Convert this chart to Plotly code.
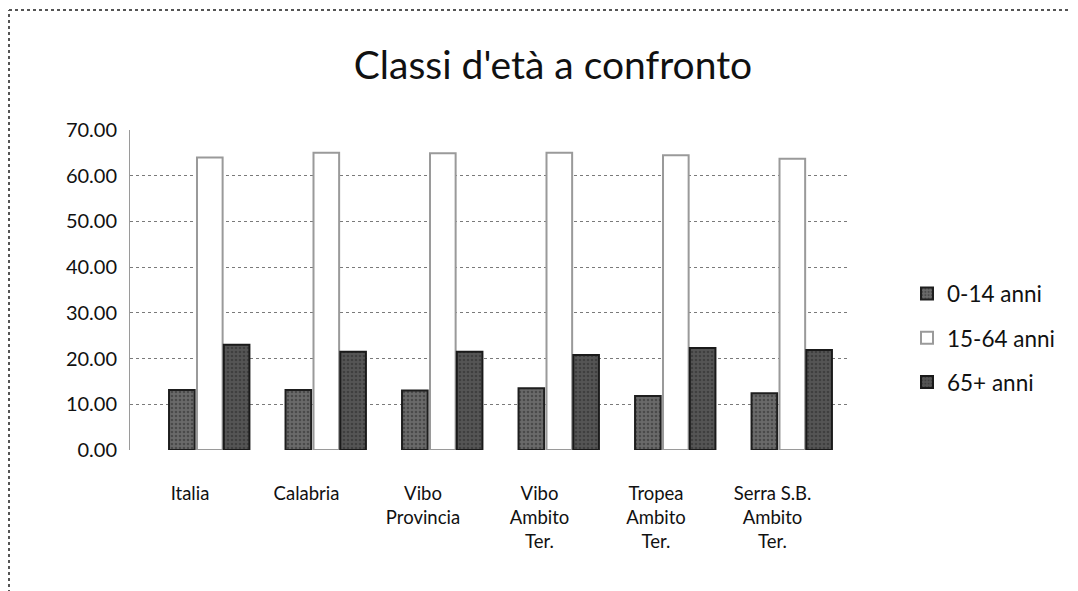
import plotly.graph_objects as go

categories = ["Italia", "Calabria", "Vibo<br>Provincia", "Vibo<br>Ambito<br>Ter.",
              "Tropea<br>Ambito<br>Ter.", "Serra S.B.<br>Ambito<br>Ter."]
series_names = ["0-14 anni", "15-64 anni", "65+ anni"]
val_0_14 = [13.1, 13.1, 13.0, 13.5, 11.8, 12.4]
val_15_64 = [64.0, 65.0, 64.9, 65.0, 64.5, 63.7]
val_65 = [23.0, 21.5, 21.5, 20.8, 22.3, 21.9]
y_ticks = [0, 10, 20, 30, 40, 50, 60, 70]
y_tick_labels = ["0.00", "10.00", "20.00", "30.00", "40.00", "50.00", "60.00", "70.00"]

FONT = "Lato"
fills = ["#6a6a6a", "#ffffff", "#555555"]
lines = ["#1e1e1e", "#9a9a9a", "#1a1a1a"]
offsets = [-0.18, 0.06, 0.29]
xs = list(range(len(categories)))

L, R, T, B = 122, 236, 122, 149
PW = 1078 - L - R
PH = 591 - T - B

fig = go.Figure()
for i, (name, vals) in enumerate(zip(series_names, [val_0_14, val_15_64, val_65])):
    fig.add_trace(go.Bar(
        x=xs, y=vals, name=name, width=0.22, offset=offsets[i],
        legendgroup=name,
        marker=dict(color=fills[i], line=dict(color=lines[i], width=2),
                    pattern=dict(shape="." if i != 1 else "", fgcolor="#2a2a2a",
                                 size=4, solidity=0.35)),
    ))

fig.update_layout(
    width=1078, height=591,
    paper_bgcolor="white", plot_bgcolor="white",
    margin=dict(l=L, r=R, t=T, b=B),
    barmode="overlay",
    title=dict(text="Classi d'età a confronto", xref="container", x=545 / 1078,
               xanchor="center", yref="container", y=1 - 57 / 591, yanchor="middle",
               font=dict(family=FONT, size=39, color="#111")),
    font=dict(family=FONT, size=18, color="#111"),
    showlegend=True,
    legend=dict(x=(899 - L) / PW, xanchor="left", y=0.555, yanchor="top",
                font=dict(family=FONT, size=22.5, color="#111"),
                tracegroupgap=12, bgcolor="rgba(0,0,0,0)"),
    xaxis=dict(tickmode="array", tickvals=xs, ticktext=categories,
               range=[-0.515, 5.665], showgrid=False, zeroline=False,
               showline=False, ticks="", ticklabelstandoff=30,
               tickfont=dict(family=FONT, size=18.5, color="#111")),
    yaxis=dict(range=[0, 70], tickmode="array", tickvals=y_ticks,
               ticktext=y_tick_labels, showgrid=True, gridcolor="#7a7a7a",
               griddash="dot", gridwidth=1, zeroline=False,
               showline=True, linecolor="#9a9a9a", linewidth=1,
               ticks="", ticklabelstandoff=8,
               tickfont=dict(family=FONT, size=20, color="#111")),
    shapes=[
        dict(type="line", xref="paper", yref="paper",
             x0=(1 - L) / PW, x1=(1 - L) / PW,
             y0=-(591 - (T + PH)) / PH, y1=(T + PH - 2) / PH,
             line=dict(color="#555", width=2, dash="dot")),
        dict(type="line", xref="paper", yref="paper",
             x0=(1 - L) / PW, x1=(1078 - L) / PW,
             y0=(T + PH - 2) / PH, y1=(T + PH - 2) / PH,
             line=dict(color="#555", width=2, dash="dot")),
    ],
)

fig.write_html("out.html")
